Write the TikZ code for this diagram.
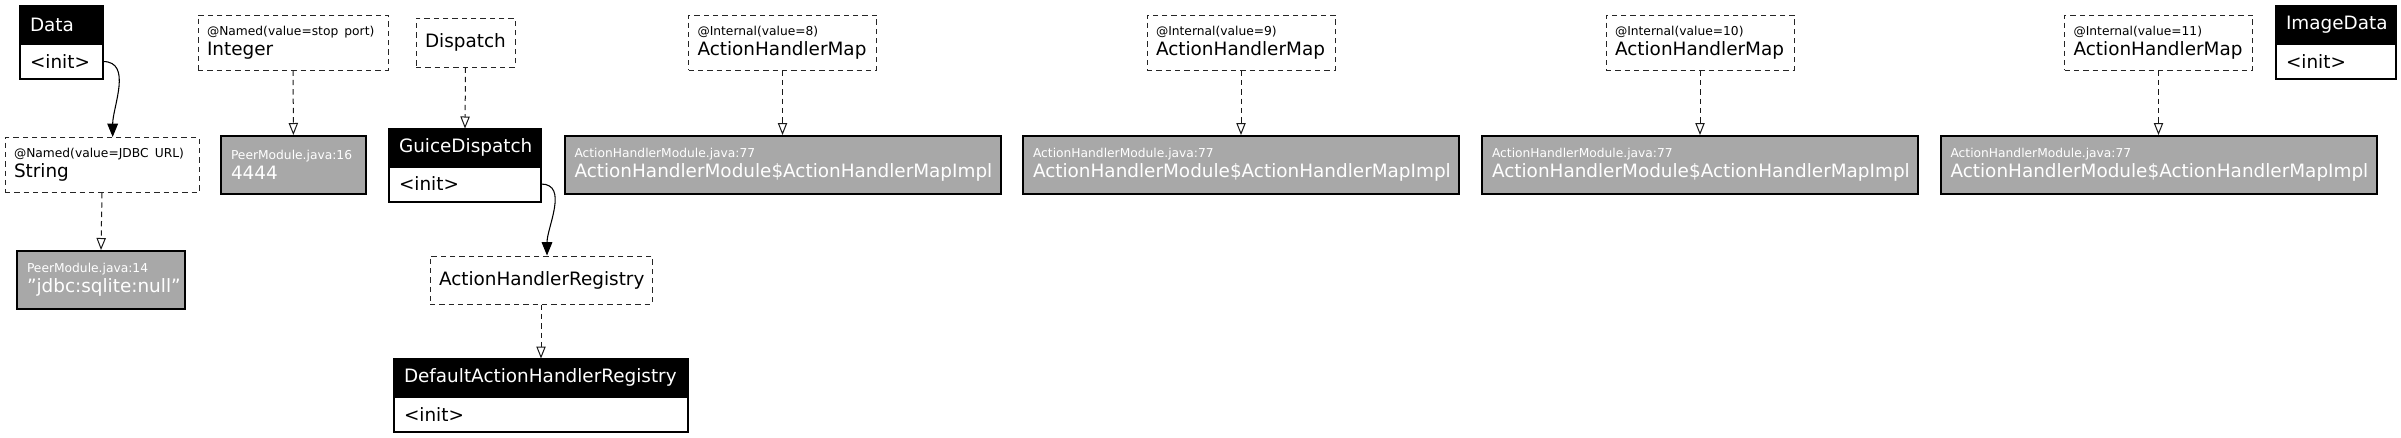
\documentclass[tikz,border=0pt]{standalone}
\usepackage{fontspec}
\setmainfont{DejaVu Sans}
\usetikzlibrary{positioning,arrows.meta}

\tikzset{
  big/.style={font=\fontsize{13.8}{15}\selectfont},
  hdr/.style={draw=black, fill=black, text=white, line width=1.5pt, inner xsep=7.5pt, inner ysep=0pt,
    text width=#1, align=left, minimum height=28.5pt, outer sep=0pt, big},
  initrow/.style={draw=black, fill=white, line width=1.5pt, inner xsep=7.5pt, inner ysep=0pt,
    text width=#1, align=left, minimum height=26.25pt, outer sep=0pt, big},
  keybox/.style={draw=black!85, line width=0.75pt, dash pattern=on 4pt off 3pt, inner xsep=6.75pt, inner ysep=0pt,
    text width=#1, align=left, minimum height=41.25pt, big},
  instbox/.style={draw=black, line width=1.5pt, fill=black!34, text=white, inner xsep=7.5pt, inner ysep=0pt,
    text width=#1, align=left, minimum height=43.5pt, big},
  dep/.style={draw=black!90, line width=0.75pt, dash pattern=on 4pt off 3pt, -{Triangle[open,length=9pt,width=7pt]}},
  call/.style={draw=black, line width=0.8pt, -{Triangle[length=10pt,width=8pt]}},
}
\newcommand{\ann}[2]{\mbox{\fontsize{9.2}{11}\selectfont #1}\\#2}

\begin{document}
\begin{tikzpicture}[x=0.75pt,y=0.75pt]
  \useasboundingbox (0,0) rectangle (2401,-437);

  % classes with constructor
  \node[hdr=47.25pt] (data) at (61.5,-25) {Data};
  \node[initrow=47.25pt, below=0pt of data] (dataInit) {<init>};
  \node[hdr=75pt] (imgdata) at (2336,-25) {ImageData};
  \node[initrow=75pt, below=0pt of imgdata] (imgdataInit) {<init>};
  \node[hdr=99pt] (gd) at (465,-147.5) {GuiceDispatch};
  \node[initrow=99pt, below=0pt of gd] (gdInit) {<init>};
  \node[hdr=205.5pt] (dahr) at (541,-377.5) {DefaultActionHandlerRegistry};
  \node[initrow=205.5pt, below=0pt of dahr] (dahrInit) {<init>};

  % keys
  \node[keybox=129pt] (integer) at (293,-42.5) {\ann{@Named(value=stop port)}{Integer}};
  \node[keybox=132pt] (string) at (102,-165) {\ann{@Named(value=JDBC URL)}{String}};
  \node[keybox=60.75pt, minimum height=36.75pt] (dispatch) at (465.5,-42.5) {Dispatch};
  \node[keybox=153pt, minimum height=36pt] (ahr) at (541,-280) {ActionHandlerRegistry};

  % instances
  \node[instbox=111pt] (jdbc) at (101,-280) {\ann{PeerModule.java:14}{"jdbc:sqlite:null"}};
  \node[instbox=93.75pt] (n4444) at (293.5,-165) {\ann{PeerModule.java:16}{4444}};

  \foreach \v/\cx in {8/782.5,9/1241,10/1700,11/2158.5}{
    \node[keybox=127.5pt] (map\v) at (\cx,-42.5) {\ann{@Internal(value=\v)}{ActionHandlerMap}};
    \node[instbox=312pt] (impl\v) at (\cx,-165)
      {\ann{ActionHandlerModule.java:77}{ActionHandlerModule\$ActionHandlerMapImpl}};
    \draw[dep] (map\v) -- (impl\v);
  }

  \draw[dep] (integer) -- (n4444);
  \draw[dep] (string.south) -- (jdbc.north);
  \draw[dep] (dispatch.south) -- (gd.north);
  \draw[dep] (ahr.south) -- (dahr.north);

  \draw[call] (dataInit.east) to[out=0,in=90] ([xshift=8pt]string.north);
  \draw[call] (gdInit.east) to[out=0,in=90] ([xshift=4.5pt]ahr.north);
\end{tikzpicture}
\end{document}
